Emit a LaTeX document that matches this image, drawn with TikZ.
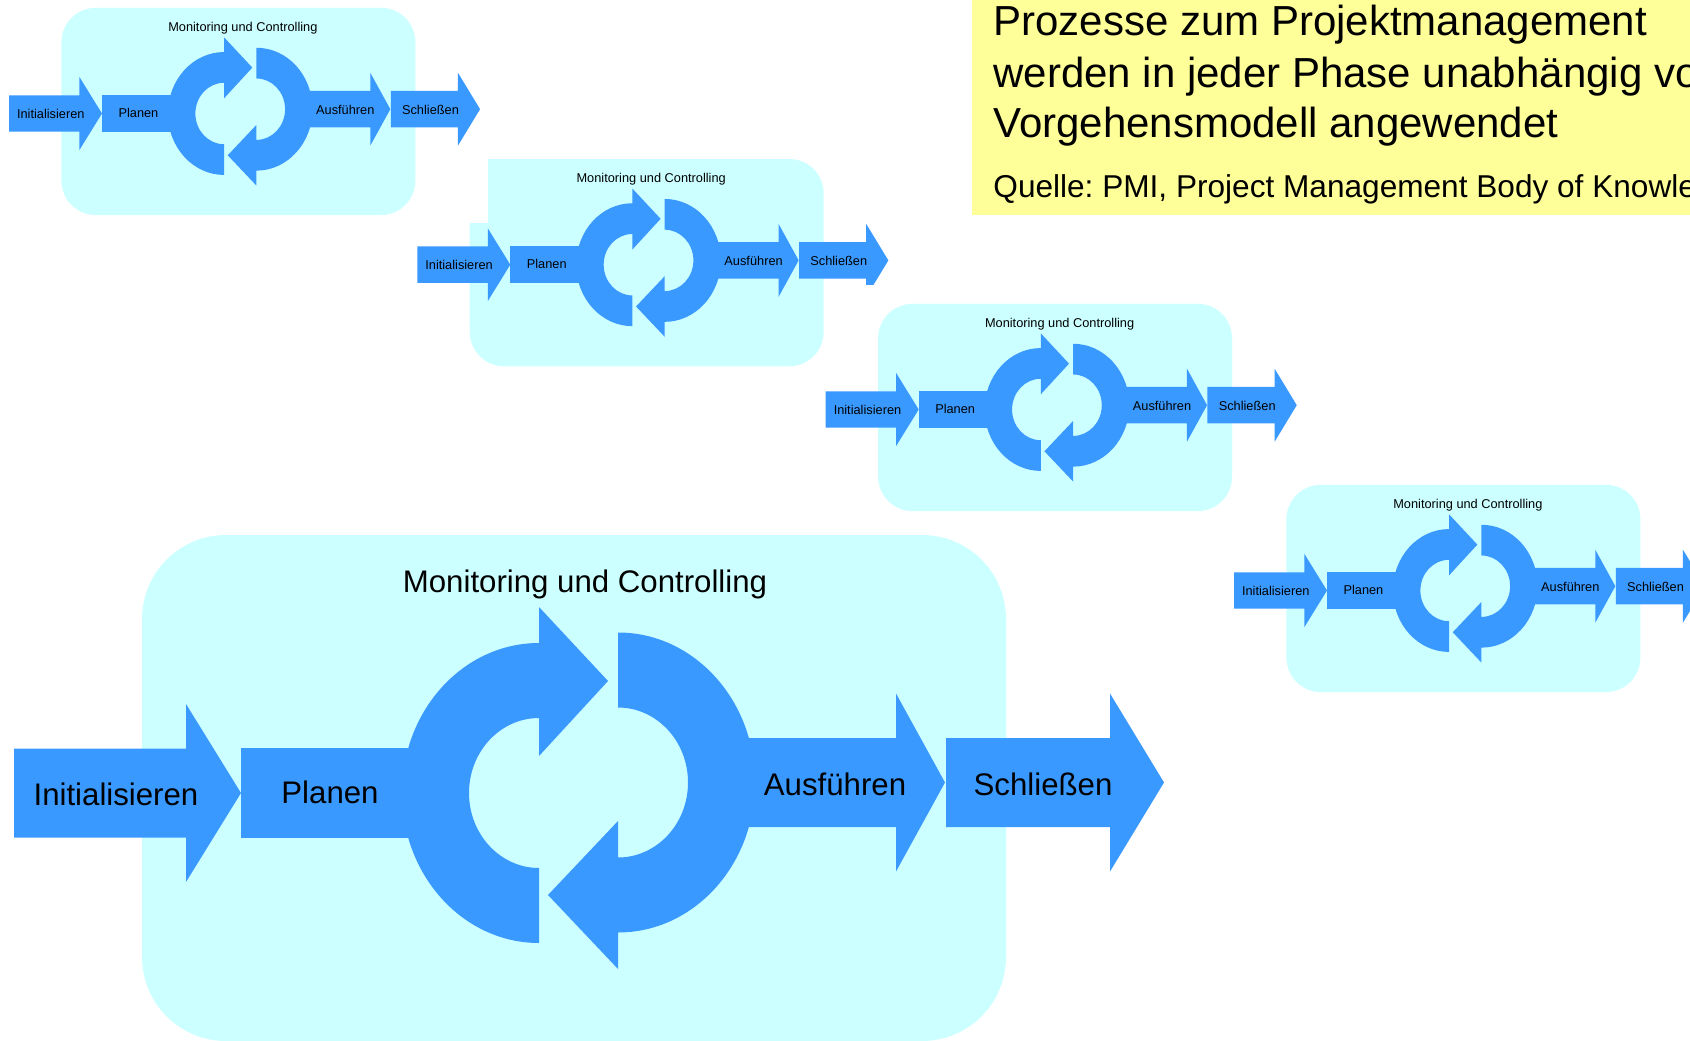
\documentclass[tikz,border=0pt]{standalone}
\usepackage{fontspec}
\setmainfont{Liberation Sans}
\usepackage{xcolor}
\usepackage{tikz}
\frenchspacing

\definecolor{pmblue}{HTML}{3A99FF}
\definecolor{pmcyan}{HTML}{CCFFFF}
\definecolor{pmyellow}{HTML}{FFFF99}

% one process group: x, y, scale, name prefix
\newcommand{\pmphase}[4]{%
  \begin{scope}[shift={(#1,#2)}, scale=#3, transform shape]
    \fill[mcbox, rounded corners=#3*42pt] (128,-248) rectangle (992,258);
    % Initialisieren, Planen
    \fill[phasearrow] (0,-44.5) -- (0,44.5) -- (172,44.5) -- (172,89) -- (227,0)
      -- (172,-89) -- (172,-44.5) -- cycle;
    \fill[phasearrow] (227,-45) rectangle (420,45);
    % the two half rings with their heads
    \fill[phasearrow] (525,150) arc[start angle=90, end angle=270, x radius=137, y radius=150]
      -- (525,-75) arc[start angle=270, end angle=90, x radius=70, y radius=75]
      -- (525,37) -- (594,112) -- (525,186) -- cycle;
    \fill[phasearrow] (604,160.5) arc[start angle=90, end angle=-90, x radius=137, y radius=150]
      -- (604,-176) -- (534,-102) -- (604,-28)
      -- (604,-64.5) arc[start angle=-90, end angle=90, x radius=70, y radius=75] -- cycle;
    % Ausfuehren, Schliessen
    \fill[phasearrow] (700,-34) -- (700,55) -- (882,55) -- (882,99.5) -- (931,10.5)
      -- (882,-78.5) -- (882,-34) -- cycle;
    \fill[phasearrow] (932,-34) -- (932,55) -- (1096,55) -- (1096,99.5) -- (1150,10.5)
      -- (1096,-78.5) -- (1096,-34) -- cycle;
    \node[phasetext] (#4-mc) at (571,201) {Monitoring und Controlling};
    \node[phasetext] (#4-ini) at (102,-12) {Initialisieren};
    \node[phasetext] (#4-plan) at (316,-10) {Planen};
    \node[phasetext] (#4-exec) at (821,-2) {Ausführen};
    \node[phasetext] (#4-close) at (1029,-2) {Schließen};
  \end{scope}}

\begin{document}
\begin{tikzpicture}[
    x=0.5pt, y=0.5pt,
    mcbox/.style={fill=pmcyan},
    phasearrow/.style={fill=pmblue},
    phasetext/.style={inner sep=0pt, anchor=base, font=\fontsize{15.6}{18}\selectfont},
    notetext/.style={inner sep=0pt, anchor=base west, font=\fontsize{21}{25}\selectfont}
    ]
    \useasboundingbox (0,0) rectangle (1690,1040);
    \fill[white] (0,0) rectangle (1690,1040);

    % note in the corner
    \fill[pmyellow] (972,825) rectangle (1690,1040);
    \node[notetext] (note1) at (993,1004) {Prozesse zum Projektmanagement};
    \node[notetext] (note2) at (993,952) {werden in jeder Phase unabhängig vom};
    \node[notetext] (note3) at (993,902) {Vorgehensmodell angewendet};
    \node[notetext, font=\fontsize{15.8}{19}\selectfont] (source) at (993,842)
      {Quelle: PMI, Project Management Body of Knowledge};

    \pmphase{9}{926.5}{0.4096}{pa}
    \pmphase{417.3}{775.3}{0.4096}{pb}
    % ragged edges of the second group
    \fill[white] (466,817) rectangle (488,885);
    \fill[mcbox] (488,850) rectangle (525,881);
    \fill[white] (860,730) rectangle (900,755);
    \pmphase{825.7}{630.5}{0.4096}{pc}
    \pmphase{1234}{449.5}{0.4096}{pd}
    \pmphase{14}{247}{1}{pe}
\end{tikzpicture}
\end{document}
